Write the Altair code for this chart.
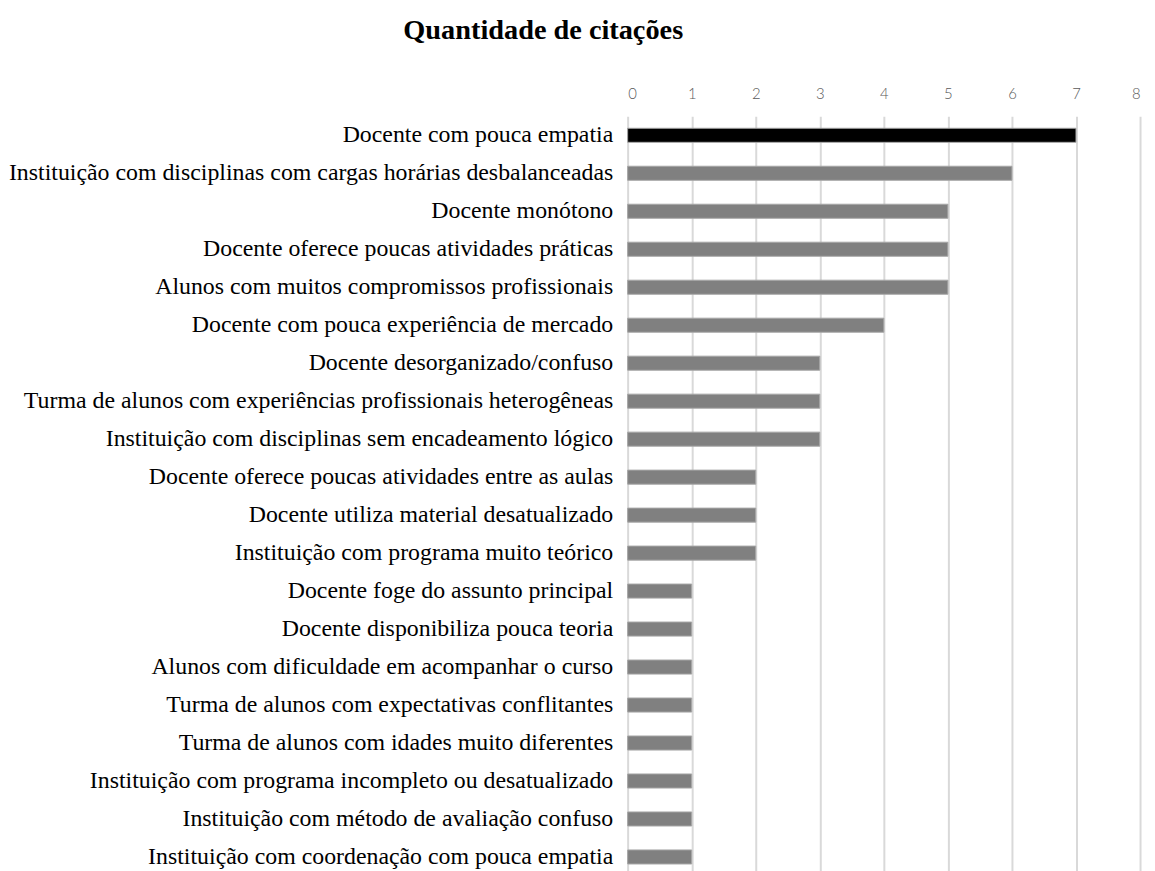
import altair as alt
import pandas as pd

categories = [
    "Docente com pouca empatia",
    "Instituição com disciplinas com cargas horárias desbalanceadas",
    "Docente monótono",
    "Docente oferece poucas atividades práticas",
    "Alunos com muitos compromissos profissionais",
    "Docente com pouca experiência de mercado",
    "Docente desorganizado/confuso",
    "Turma de alunos com experiências profissionais heterogêneas",
    "Instituição com disciplinas sem encadeamento lógico",
    "Docente oferece poucas atividades entre as aulas",
    "Docente utiliza material desatualizado",
    "Instituição com programa muito teórico",
    "Docente foge do assunto principal",
    "Docente disponibiliza pouca teoria",
    "Alunos com dificuldade em acompanhar o curso",
    "Turma de alunos com expectativas conflitantes",
    "Turma de alunos com idades muito diferentes",
    "Instituição com programa incompleto ou desatualizado",
    "Instituição com método de avaliação confuso",
    "Instituição com coordenação com pouca empatia",
]
values = [7, 6, 5, 5, 5, 4, 3, 3, 3, 2, 2, 2, 1, 1, 1, 1, 1, 1, 1, 1]
highlight = ["top"] + ["rest"] * (len(categories) - 1)

df = pd.DataFrame({"cat": categories, "val": values, "grp": highlight})

chart = alt.Chart(df).mark_bar(stroke="#a6a6a6", strokeWidth=1).encode(
    x=alt.X("val:Q",
            scale=alt.Scale(domain=[0, 8], nice=False),
            axis=alt.Axis(orient="top", values=list(range(9)), title=None,
                          domain=False, ticks=False, grid=True,
                          gridColor="#d9d9d9", gridWidth=2,
                          labelFont="Lato", labelFontWeight=300,
                          labelFontSize=15, labelColor="#595959",
                          labelPadding=15)),
    y=alt.Y("cat:N", sort=categories,
            scale=alt.Scale(paddingInner=0.63, paddingOuter=0.315),
            axis=alt.Axis(title=None, domain=False, ticks=False,
                          labelFont="Liberation Serif", labelFontSize=24,
                          labelColor="#000000", labelPadding=15,
                          labelLimit=900)),
    color=alt.Color("grp:N",
                    scale=alt.Scale(domain=["top", "rest"], range=["#000000", "#808080"]),
                    legend=None),
).properties(
    width=516,
    height=765,
    title=alt.TitleParams("Quantidade de citações", font="Liberation Serif",
                          fontSize=28.5, fontWeight="bold", color="#000000",
                          anchor="middle", dx=-343, offset=42),
    autosize=alt.AutoSizeParams(type="none"),
    padding={"left": 624, "top": 106, "right": 7, "bottom": 0},
).configure_view(stroke=None)

chart.save("out.html", embed_options={"renderer": "svg", "actions": False})
